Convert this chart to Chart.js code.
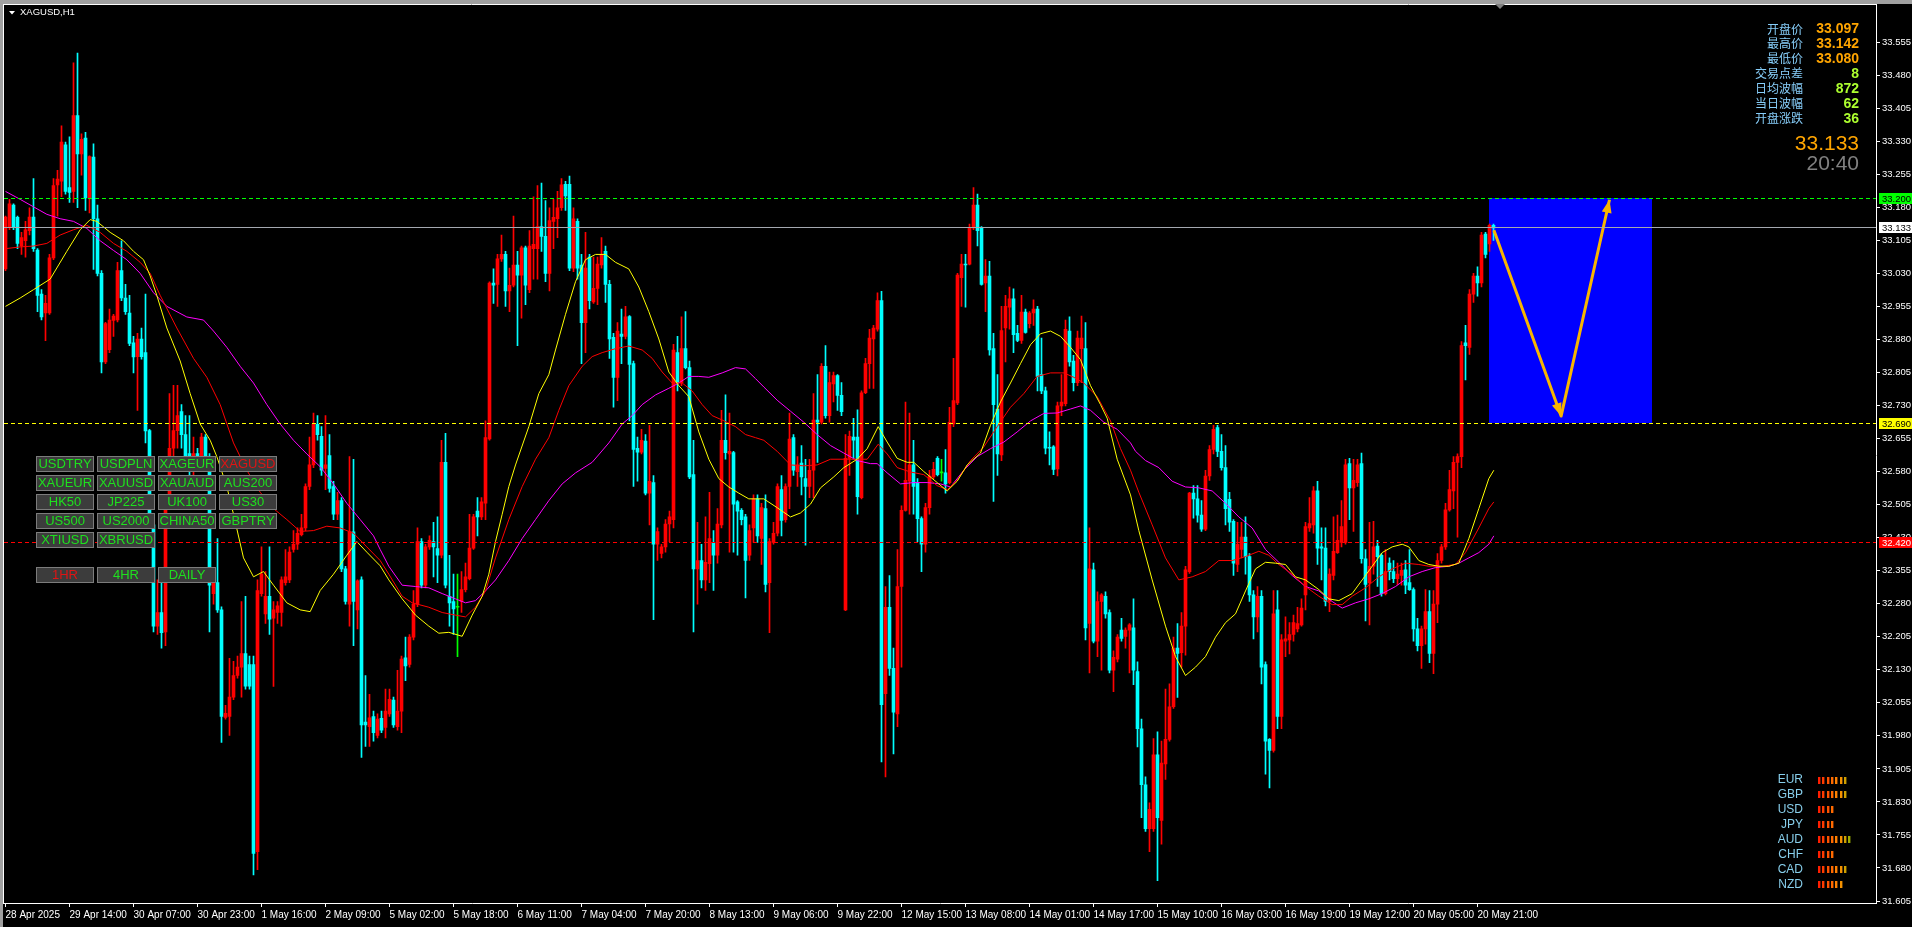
<!DOCTYPE html>
<html lang="zh">
<head>
<meta charset="utf-8">
<title>XAGUSD,H1</title>
<script src="https://cdn.jsdelivr.net/npm/chart.js@4.4.1/dist/chart.umd.min.js"></script>
<style>
html,body{margin:0;padding:0;background:#000;overflow:hidden;}
canvas{display:block;}
</style>
</head>
<body>
<canvas id="chart" width="1912" height="927"></canvas>
<script>
// ---- XAGUSD hourly bars (index 0 = 28 Apr 2025) ----
const opens = [
33.040,33.136,33.185,33.157,33.092,33.104,33.127,33.158,33.083,32.983,
32.940,32.940,33.065,33.231,33.239,33.322,33.225,33.216,33.388,33.301,
33.337,33.201,33.294,33.154,33.030,32.829,32.857,32.923,32.924,33.036,
32.974,32.940,32.872,32.841,32.881,32.850,32.673,32.459,32.229,32.260,
32.216,32.509,32.633,32.673,32.716,32.664,32.621,32.583,32.621,32.595,
32.658,32.614,32.303,32.328,32.266,32.022,32.024,32.068,32.117,32.136,
32.167,32.142,32.142,31.717,32.303,32.257,32.297,32.247,32.260,32.260,
32.328,32.334,32.403,32.415,32.437,32.452,32.546,32.595,32.687,32.660,
32.587,32.616,32.546,32.483,32.514,32.359,32.279,32.443,32.266,32.334,
32.011,32.001,32.024,31.981,32.020,31.999,32.030,32.061,32.001,32.036,
32.157,32.142,32.204,32.279,32.421,32.322,32.409,32.421,32.405,32.390,
32.601,32.297,32.285,32.272,32.285,32.312,32.337,32.406,32.490,32.477,
32.508,32.654,33.008,33.005,33.063,33.073,32.990,33.003,33.049,33.026,
33.088,32.993,33.086,33.086,33.136,33.114,33.030,33.148,33.154,33.179,
33.232,33.232,33.042,33.148,33.049,32.918,33.067,32.965,32.996,33.049,
33.080,33.005,32.885,32.794,32.892,32.887,32.932,32.825,32.633,32.624,
32.649,32.531,32.555,32.415,32.394,32.409,32.461,32.471,32.850,32.782,
32.859,32.816,32.573,32.359,32.378,32.334,32.371,32.419,32.390,32.459,
32.651,32.620,32.623,32.511,32.492,32.477,32.390,32.452,32.518,32.428,
32.496,32.328,32.419,32.440,32.539,32.471,32.546,32.657,32.580,32.599,
32.564,32.546,32.583,32.697,32.692,32.819,32.707,32.779,32.798,32.753,
32.266,32.610,32.658,32.658,32.521,32.759,32.825,32.881,32.903,32.968,
32.076,32.272,32.133,32.030,32.319,32.492,32.558,32.595,32.555,32.473,
32.415,32.498,32.568,32.610,32.577,32.577,32.555,32.688,32.736,33.020,
33.051,33.051,33.133,33.185,33.132,33.008,33.024,32.859,32.722,32.618,
32.906,32.953,32.972,32.894,32.878,32.942,32.916,32.940,32.949,32.800,
32.763,32.635,32.636,32.586,32.729,32.734,32.899,32.831,32.782,32.859,
32.859,32.235,32.357,32.195,32.285,32.297,32.260,32.129,32.154,32.220,
32.206,32.220,32.225,32.126,31.996,31.869,31.769,31.769,31.937,31.788,
31.916,31.972,32.046,32.179,32.169,32.229,32.353,32.531,32.518,32.481,
32.449,32.570,32.630,32.680,32.626,32.589,32.517,32.467,32.369,32.403,
32.431,32.387,32.300,32.250,32.297,32.142,31.972,31.947,32.266,32.024,
32.195,32.198,32.210,32.223,32.232,32.300,32.452,32.459,32.536,32.409,
32.406,32.285,32.344,32.396,32.419,32.419,32.598,32.543,32.555,32.598,
32.382,32.328,32.365,32.411,32.390,32.303,32.372,32.353,32.337,32.344,
32.357,32.328,32.312,32.223,32.185,32.223,32.262,32.167,32.279,32.378,
32.409,32.493,32.536,32.601,32.614,32.872,32.862,32.983,33.024,33.008,
33.119,33.097,33.139
];
const highs = [
33.160,33.198,33.188,33.160,33.123,33.148,33.179,33.245,33.086,32.993,
32.980,33.073,33.245,33.264,33.365,33.328,33.340,33.508,33.530,33.347,
33.350,33.297,33.324,33.185,33.036,32.919,32.949,32.937,33.055,33.104,
33.005,32.980,32.887,32.894,32.906,32.983,32.676,32.471,32.334,32.334,
32.521,32.757,32.776,32.776,32.732,32.707,32.707,32.658,32.633,32.667,
32.664,32.621,32.347,32.428,32.273,32.049,32.156,32.149,32.161,32.285,
32.297,32.161,32.161,32.334,32.409,32.353,32.409,32.285,32.285,32.341,
32.403,32.409,32.446,32.452,32.483,32.552,32.658,32.713,32.707,32.682,
32.707,32.664,32.558,32.533,32.521,32.365,32.614,32.608,32.334,32.341,
32.117,32.074,32.036,32.030,32.036,32.086,32.086,32.068,32.129,32.161,
32.204,32.210,32.310,32.452,32.428,32.415,32.434,32.465,32.477,32.651,
32.667,32.390,32.347,32.347,32.353,32.372,32.483,32.483,32.521,32.521,
32.695,33.011,33.040,33.073,33.117,33.080,33.042,33.160,33.080,33.092,
33.092,33.127,33.204,33.229,33.235,33.195,33.179,33.198,33.216,33.245,
33.239,33.251,33.179,33.154,33.073,33.123,33.073,33.067,33.067,33.111,
33.092,33.014,32.894,32.918,32.949,32.955,32.934,32.831,32.658,32.676,
32.664,32.685,32.571,32.452,32.415,32.471,32.490,32.869,32.887,32.931,
32.943,32.831,32.651,32.465,32.415,32.477,32.533,32.446,32.496,32.719,
32.754,32.713,32.626,32.514,32.496,32.483,32.459,32.527,32.527,32.508,
32.527,32.428,32.465,32.552,32.571,32.552,32.713,32.664,32.614,32.639,
32.608,32.608,32.757,32.800,32.825,32.866,32.806,32.806,32.800,32.782,
32.664,32.672,32.701,32.720,32.763,32.837,32.903,32.912,32.986,32.989,
32.319,32.344,32.179,32.403,32.502,32.738,32.713,32.651,32.564,32.477,
32.508,32.583,32.601,32.614,32.608,32.630,32.726,32.837,33.030,33.073,
33.073,33.142,33.225,33.210,33.136,33.061,33.057,32.894,32.800,32.955,
32.980,32.999,32.995,32.912,32.980,32.949,32.943,32.970,32.955,32.883,
32.772,32.670,32.639,32.738,32.800,32.924,32.931,32.844,32.899,32.933,
32.918,32.452,32.372,32.307,32.303,32.307,32.266,32.173,32.210,32.247,
32.225,32.235,32.291,32.148,32.018,31.887,31.828,31.974,31.989,31.968,
32.086,32.098,32.204,32.235,32.260,32.365,32.533,32.548,32.548,32.514,
32.583,32.639,32.685,32.685,32.664,32.639,32.533,32.471,32.465,32.465,
32.477,32.394,32.310,32.319,32.310,32.148,31.974,32.310,32.310,32.210,
32.250,32.237,32.254,32.272,32.291,32.465,32.521,32.546,32.558,32.452,
32.452,32.359,32.477,32.481,32.514,32.608,32.610,32.608,32.608,32.622,
32.403,32.465,32.467,32.424,32.394,32.403,32.384,32.378,32.372,32.372,
32.378,32.403,32.316,32.247,32.229,32.312,32.310,32.310,32.394,32.415,
32.508,32.583,32.614,32.620,32.875,32.912,32.993,33.030,33.045,33.123,
33.123,33.142,33.142
];
const lows = [
33.036,33.129,33.129,33.086,33.073,33.067,33.117,33.080,32.943,32.924,
32.877,32.937,33.061,33.160,33.204,33.210,33.191,33.191,33.179,33.253,
33.173,33.167,33.039,33.024,32.804,32.825,32.850,32.887,32.920,32.968,
32.937,32.866,32.804,32.719,32.835,32.645,32.452,32.216,32.210,32.179,
32.185,32.496,32.583,32.633,32.633,32.595,32.558,32.571,32.583,32.583,
32.608,32.216,32.279,32.260,31.965,32.018,31.981,32.062,32.111,32.068,
32.086,32.086,31.664,31.676,32.297,32.235,32.210,32.092,32.235,32.229,
32.322,32.328,32.397,32.403,32.434,32.446,32.539,32.589,32.651,32.571,
32.539,32.533,32.471,32.471,32.353,32.279,32.229,32.185,32.223,31.931,
31.956,31.956,31.968,31.975,31.987,31.975,32.024,31.999,31.993,31.987,
32.105,32.136,32.198,32.273,32.316,32.316,32.403,32.341,32.328,32.384,
32.316,32.229,32.210,32.160,32.260,32.307,32.334,32.403,32.434,32.471,
32.471,32.651,32.962,32.955,33.057,32.955,32.943,32.999,32.866,32.928,
32.959,32.986,33.017,33.017,33.080,33.011,32.990,33.086,33.111,33.173,
33.173,33.036,33.034,33.017,32.825,32.850,32.949,32.962,32.959,33.042,
32.964,32.837,32.726,32.741,32.825,32.881,32.695,32.546,32.558,32.620,
32.527,32.459,32.244,32.378,32.384,32.397,32.421,32.452,32.763,32.775,
32.813,32.564,32.216,32.279,32.316,32.310,32.328,32.310,32.372,32.452,
32.608,32.397,32.397,32.390,32.459,32.293,32.378,32.419,32.419,32.369,
32.307,32.214,32.415,32.434,32.434,32.465,32.496,32.571,32.546,32.527,
32.413,32.521,32.521,32.601,32.688,32.701,32.692,32.738,32.719,32.707,
32.264,32.571,32.608,32.483,32.518,32.757,32.769,32.769,32.899,31.921,
31.887,32.117,31.939,32.001,32.136,32.490,32.483,32.483,32.421,32.353,
32.397,32.483,32.564,32.570,32.558,32.531,32.552,32.682,32.732,32.955,
32.953,33.049,33.129,33.092,33.003,32.943,32.844,32.512,32.571,32.605,
32.829,32.903,32.850,32.875,32.871,32.894,32.906,32.912,32.763,32.757,
32.620,32.595,32.573,32.570,32.707,32.729,32.819,32.763,32.775,32.782,
32.198,32.123,32.191,32.160,32.129,32.247,32.123,32.080,32.148,32.195,
32.179,32.123,32.096,31.955,31.794,31.763,31.717,31.763,31.651,31.734,
31.881,31.968,32.042,32.067,32.136,32.163,32.349,32.474,32.465,32.444,
32.446,32.560,32.620,32.614,32.583,32.459,32.444,32.344,32.353,32.384,
32.347,32.285,32.200,32.216,32.098,31.893,31.862,31.943,31.996,31.996,
32.160,32.166,32.195,32.216,32.229,32.266,32.444,32.440,32.369,32.334,
32.275,32.262,32.334,32.394,32.409,32.415,32.471,32.444,32.546,32.372,
32.241,32.232,32.347,32.319,32.297,32.300,32.334,32.328,32.324,32.322,
32.303,32.310,32.195,32.173,32.133,32.188,32.146,32.121,32.237,32.372,
32.403,32.490,32.496,32.431,32.589,32.788,32.846,32.964,32.978,32.999,
33.065,33.080,33.105
];
const closes = [
33.158,33.188,33.136,33.098,33.111,33.129,33.158,33.086,32.980,32.931,
32.962,33.065,33.229,33.244,33.328,33.216,33.214,33.388,33.301,33.334,
33.201,33.295,33.154,33.030,32.829,32.916,32.924,32.933,33.036,32.974,
32.943,32.871,32.840,32.881,32.841,32.672,32.459,32.229,32.260,32.214,
32.509,32.633,32.673,32.707,32.664,32.614,32.583,32.621,32.595,32.658,
32.614,32.322,32.328,32.266,32.024,32.031,32.068,32.117,32.136,32.167,
32.093,32.093,31.713,32.310,32.347,32.297,32.245,32.266,32.275,32.334,
32.341,32.397,32.415,32.440,32.452,32.546,32.595,32.687,32.664,32.583,
32.595,32.542,32.483,32.514,32.359,32.285,32.444,32.285,32.332,32.005,
32.005,32.021,31.987,32.018,31.993,32.036,32.063,32.005,32.036,32.154,
32.139,32.204,32.279,32.421,32.322,32.409,32.424,32.409,32.390,32.601,
32.322,32.282,32.268,32.272,32.312,32.341,32.406,32.477,32.477,32.511,
32.657,33.008,33.003,33.063,33.073,32.990,33.003,33.049,33.026,33.088,
33.003,33.092,33.096,33.136,33.114,33.030,33.150,33.157,33.179,33.231,
33.206,33.042,33.154,33.042,32.918,33.042,32.968,32.996,33.051,33.073,
33.005,32.881,32.794,32.899,32.887,32.931,32.823,32.630,32.624,32.651,
32.531,32.558,32.415,32.444,32.409,32.461,32.477,32.856,32.782,32.859,
32.816,32.568,32.359,32.378,32.334,32.374,32.428,32.390,32.461,32.651,
32.623,32.626,32.506,32.490,32.471,32.378,32.446,32.518,32.434,32.498,
32.324,32.421,32.440,32.546,32.469,32.546,32.654,32.583,32.595,32.568,
32.546,32.583,32.697,32.692,32.819,32.707,32.782,32.798,32.753,32.716,
32.610,32.660,32.651,32.523,32.759,32.825,32.883,32.906,32.968,32.051,
32.272,32.133,32.034,32.319,32.492,32.560,32.595,32.546,32.473,32.415,
32.498,32.570,32.585,32.573,32.577,32.552,32.692,32.741,33.026,33.051,
33.049,33.133,33.185,33.127,33.005,33.024,32.856,32.732,32.620,32.900,
32.955,32.972,32.891,32.878,32.942,32.896,32.940,32.949,32.796,32.763,
32.633,32.633,32.585,32.729,32.738,32.903,32.829,32.782,32.883,32.883,
32.225,32.359,32.195,32.285,32.300,32.257,32.129,32.158,32.204,32.201,
32.220,32.232,32.129,31.996,31.869,31.769,31.813,31.937,31.794,31.918,
31.972,32.046,32.179,32.167,32.229,32.357,32.531,32.518,32.481,32.449,
32.570,32.630,32.676,32.626,32.589,32.496,32.465,32.372,32.415,32.431,
32.387,32.300,32.250,32.297,32.136,31.968,31.947,32.257,32.024,32.198,
32.200,32.210,32.237,32.235,32.270,32.455,32.462,32.536,32.406,32.406,
32.285,32.347,32.399,32.424,32.455,32.595,32.543,32.560,32.595,32.382,
32.324,32.365,32.409,32.387,32.303,32.353,32.353,32.337,32.347,32.356,
32.322,32.312,32.223,32.185,32.223,32.262,32.167,32.279,32.378,32.409,
32.493,32.539,32.601,32.614,32.866,32.866,32.983,33.024,33.008,33.117,
33.073,33.139,33.133
];

// Moving averages: [bar position, price]
const maFast = [
[0,32.955],[3.67,32.974],[7,32.993],[11.17,33.017],[15.33,33.080],[18.67,33.129],[21.17,33.152],[22.83,33.148],[26.17,33.123],[29.5,33.104],
[32,33.080],[34.5,33.061],[36.17,33.024],[37.83,32.980],[40.33,32.906],[43.67,32.831],[46.17,32.757],[48.67,32.688],[51.17,32.651],[52.83,32.614],
[55.33,32.546],[57,32.483],[59.5,32.384],[62,32.341],[64.5,32.353],[67,32.322],[70.33,32.282],[73.67,32.266],[76.17,32.262],[78.67,32.310],
[82,32.347],[85.33,32.390],[87.83,32.421],[90.33,32.397],[93.67,32.366],[95.83,32.334],[99.17,32.291],[102.5,32.254],[105.83,32.229],[108.33,32.213],
[110.83,32.215],[114.17,32.206],[116.67,32.254],[119.17,32.297],[120.83,32.347],[122.5,32.421],[124.17,32.483],[125.83,32.546],[127.5,32.595],[130.83,32.682],
[133.33,32.757],[135.83,32.800],[137.5,32.856],[140,32.937],[142.5,33.011],[145,33.061],[147.5,33.073],[150,33.073],[152.5,33.055],[155.83,33.040],
[158.33,32.999],[160.83,32.943],[163.33,32.881],[165.83,32.806],[168.33,32.775],[170.83,32.750],[173.33,32.670],[175.83,32.608],[178.33,32.564],[180.83,32.545],
[183.33,32.531],[185.83,32.518],[189.58,32.518],[192.92,32.498],[196.25,32.477],[198.75,32.486],[201.25,32.506],[203.75,32.543],[207.08,32.568],[209.58,32.589],
[212.92,32.608],[215.42,32.632],[218.17,32.682],[220.42,32.647],[222.92,32.610],[225.42,32.601],[227.08,32.601],[229.58,32.580],[232.92,32.555],[235.42,32.536],
[237.92,32.558],[240.42,32.595],[243.75,32.622],[246.25,32.685],[248.75,32.738],[251.25,32.781],[253.75,32.825],[256.25,32.868],[258.75,32.893],[261.25,32.899],
[263.75,32.887],[266.25,32.862],[268.75,32.834],[271.25,32.775],[273.75,32.732],[275.42,32.701],[277.92,32.608],[281.25,32.527],[283.33,32.446],[286.67,32.334],
[290,32.229],[292.5,32.160],[295,32.117],[297.5,32.136],[300,32.160],[302.5,32.204],[305,32.237],[307.5,32.257],[310,32.309],[312.5,32.359],
[315,32.374],[317.5,32.372],[320,32.369],[322.5,32.341],[325,32.334],[328.33,32.312],[330.83,32.291],[333.33,32.287],[336.67,32.303],[339.17,32.334],
[341.67,32.365],[344.17,32.396],[346.67,32.409],[349.17,32.415],[350.83,32.409],[353.33,32.378],[355.83,32.369],[358.33,32.365],[360.83,32.365],[363.33,32.372],
[365.83,32.428],[368.33,32.496],[370.83,32.564],[372.08,32.583]
];
const maMid = [
[0,33.086],[3.67,33.090],[7,33.092],[10.33,33.098],[13.67,33.117],[17,33.129],[20.33,33.139],[23.67,33.123],[27,33.098],[30.33,33.080],
[33.67,33.055],[36.17,33.030],[38.67,32.980],[42.83,32.906],[47,32.837],[50.33,32.794],[53.67,32.732],[57,32.645],[60.33,32.583],[63.67,32.533],
[67,32.496],[70.33,32.471],[73.67,32.444],[77,32.446],[80.33,32.456],[83.67,32.452],[87,32.440],[90.33,32.409],[93.67,32.378],[95.83,32.347],
[99.17,32.297],[101.67,32.282],[105.83,32.272],[109.17,32.260],[112.5,32.254],[115,32.250],[117.5,32.272],[120,32.309],[122.5,32.384],[125.83,32.471],
[129.17,32.546],[132.5,32.608],[135.83,32.657],[138.33,32.719],[140.83,32.775],[144.17,32.819],[146.67,32.841],[149.17,32.850],[152.5,32.859],[155.83,32.865],
[159.17,32.856],[161.67,32.837],[164.17,32.806],[166.67,32.781],[169.17,32.781],[171.67,32.763],[174.17,32.732],[176.67,32.707],[179.17,32.697],[182.5,32.682],
[185,32.664],[187.5,32.657],[189.58,32.651],[192.92,32.626],[196.25,32.595],[199.58,32.593],[202.92,32.595],[206.25,32.608],[209.58,32.608],[212.92,32.608],
[215.42,32.608],[218.17,32.642],[220.42,32.620],[222.92,32.589],[226.25,32.579],[229.58,32.573],[232.92,32.548],[235.42,32.539],[237.92,32.560],[241.25,32.605],
[244.58,32.636],[247.92,32.682],[251.25,32.726],[254.58,32.757],[257.92,32.796],[261.25,32.804],[264.58,32.804],[267.08,32.794],[269.58,32.781],[272.92,32.750],
[276.25,32.695],[278.75,32.632],[281.25,32.583],[283.33,32.533],[286.67,32.459],[290,32.384],[293.33,32.334],[296.67,32.341],[300,32.353],[303.33,32.378],
[306.67,32.378],[310,32.387],[313.33,32.399],[315.83,32.390],[318.33,32.369],[321.67,32.347],[325,32.319],[328.33,32.297],[331.67,32.278],[334.17,32.278],
[336.67,32.297],[340,32.316],[343.33,32.341],[346.67,32.359],[350,32.372],[353.33,32.369],[355.83,32.365],[359.17,32.365],[362.5,32.369],[365,32.396],
[368.33,32.452],[370.83,32.496],[372.08,32.511]
];
const maSlow = [
[0,33.216],[3.67,33.198],[7,33.181],[10.33,33.164],[13.67,33.154],[17,33.148],[20.33,33.132],[23.67,33.104],[27,33.082],[30.33,33.061],
[33.67,33.030],[37,32.986],[40.33,32.955],[45.33,32.931],[49.5,32.924],[52,32.899],[55.33,32.862],[58.67,32.819],[62,32.781],[65.33,32.732],
[68.67,32.688],[72,32.651],[75.33,32.620],[78.67,32.591],[82,32.552],[85.33,32.508],[88.67,32.471],[92,32.434],[93.67,32.403],[95.83,32.365],
[99.17,32.322],[102.5,32.319],[105.83,32.316],[109.17,32.303],[112.5,32.291],[115,32.282],[117.5,32.287],[120,32.309],[122.5,32.334],[125.83,32.378],
[129.17,32.428],[132.5,32.471],[135.83,32.514],[139.17,32.552],[142.5,32.577],[146.67,32.601],[150.83,32.645],[154.17,32.688],[156.67,32.707],[159.17,32.732],
[162.5,32.754],[165.83,32.769],[168.33,32.781],[170.83,32.796],[173.33,32.796],[175.83,32.794],[179.17,32.804],[182.5,32.816],[185,32.813],[187.5,32.791],
[189.58,32.772],[192.92,32.742],[196.25,32.717],[199.58,32.692],[202.92,32.664],[206.25,32.639],[209.58,32.622],[212.92,32.605],[216.25,32.598],[217.92,32.598],
[220.42,32.577],[223.75,32.552],[227.08,32.555],[230.42,32.555],[233.75,32.552],[236.25,32.545],[239.58,32.583],[242.92,32.614],[246.25,32.632],[249.58,32.647],
[252.92,32.670],[256.25,32.695],[259.58,32.712],[262.92,32.713],[266.25,32.722],[268.75,32.729],[271.25,32.719],[274.58,32.692],[277.92,32.676],[281.25,32.645],
[282.5,32.626],[285,32.605],[288.33,32.589],[291.67,32.558],[295,32.545],[298.33,32.543],[301.67,32.536],[305,32.508],[308.33,32.477],[311.67,32.452],
[315,32.403],[318.33,32.374],[321.67,32.344],[325,32.319],[328.33,32.309],[331.67,32.285],[334.17,32.270],[337.5,32.282],[340.83,32.291],[344.17,32.303],
[347.5,32.319],[350.83,32.341],[354.17,32.353],[357.5,32.362],[360.83,32.365],[363.33,32.372],[365.83,32.384],[368.33,32.396],[370.83,32.415],[372.08,32.434]
];

// Axis labels
const timeLabels = ['28 Apr 2025','29 Apr 14:00','30 Apr 07:00','30 Apr 23:00','1 May 16:00','2 May 09:00','5 May 02:00','5 May 18:00',
  '6 May 11:00','7 May 04:00','7 May 20:00','8 May 13:00','9 May 06:00','9 May 22:00','12 May 15:00','13 May 08:00','14 May 01:00',
  '14 May 17:00','15 May 10:00','16 May 03:00','16 May 19:00','19 May 12:00','20 May 05:00','20 May 21:00'];
const BARS_PER_LABEL = 16;
const priceTicks = [31.605,31.680,31.755,31.830,31.905,31.980,32.055,32.130,32.205,32.280,32.355,32.430,32.505,32.580,
  32.655,32.730,32.805,32.880,32.955,33.030,33.105,33.180,33.255,33.330,33.405,33.480,33.555];

// Horizontal levels and the projected path
const levelPrices = [33.200, 32.690, 32.420];
const levelColors = ['#00FF00', '#FFFF00', '#FF0000'];
const levelTextColors = ['#000000', '#000000', '#FFFFFF'];
const bidPrice = 33.133;
const zoneFrom = 370.9, zoneTo = 411.6, zoneLow = 32.690, zoneHigh = 33.200;
const arrowPath = [[372.1, 33.128], [388.9, 32.706], [401.0, 33.197]];

// Info panel
const infoLabels = ['开盘价', '最高价', '最低价', '交易点差', '日均波幅', '当日波幅', '开盘涨跌'];
const infoValues = ['33.097', '33.142', '33.080', '8', '872', '62', '36'];
const lastPrice = '33.133';
const barTimer = '20:40';

// Symbol buttons
const symbolRows = [['USDTRY','USDPLN','XAGEUR','XAGUSD'],['XAUEUR','XAUUSD','XAUAUD','AUS200'],
  ['HK50','JP225','UK100','US30'],['US500','US2000','CHINA50','GBPTRY'],['XTIUSD','XBRUSD']];
const periodButtons = ['1HR', '4HR', 'DAILY'];
const activeSymbol = 'XAGUSD', activePeriod = '1HR';

// Currency strength meter
const currencies = ['EUR','GBP','USD','JPY','AUD','CHF','CAD','NZD'];
const strength = [7, 7, 4, 4, 8, 4, 7, 6];
const strengthColors = ['#FF1E00','#FF3A00','#FF5200','#FF6A00','#FF8000','#F59200','#CFA000','#9CAC00'];

const X_MIN = -0.375, X_MAX = 467.625;
const PRICE_MIN = 31.6005, PRICE_MAX = 33.6331;

const AXIS_FONT = "'Liberation Sans',Arial,sans-serif";
const SANS = "'Liberation Sans',Arial,sans-serif";
const CJK = "'Noto Sans CJK SC','Noto Sans',sans-serif";
const UP = '#FF0000', DOWN = '#00FFFF', FLAT = '#00FF00';
const ARROW = '#F7B500';

const colorOf = i => closes[i] > opens[i] ? UP : (closes[i] < opens[i] ? DOWN : FLAT);
const wickData = opens.map((_, i) => ({ x: i, y: [lows[i], highs[i]] }));
const bodyData = opens.map((_, i) => ({ x: i, y: [Math.min(opens[i], closes[i]), Math.max(opens[i], closes[i])] }));
const toPoints = arr => arr.map(([x, y]) => ({ x, y }));
const half = v => Math.floor(v) + 0.5;

function arrowHead(c, sx, sy, ex, ey, len, w) {
  const a = Math.atan2(ey - sy, ex - sx);
  const bx = ex - len * Math.cos(a), by = ey - len * Math.sin(a);
  c.beginPath();
  c.moveTo(ex, ey);
  c.lineTo(bx + w * Math.sin(a), by - w * Math.cos(a));
  c.lineTo(bx - w * Math.sin(a), by + w * Math.cos(a));
  c.closePath();
  c.fill();
}

const terminal = {
  id: 'terminal',
  beforeDraw(chart) {
    const c = chart.ctx;
    c.save();
    c.fillStyle = '#000000';
    c.fillRect(0, 0, chart.width, chart.height);
    c.fillStyle = '#A0A0A0';
    c.fillRect(0, 0, chart.width, 4);
    c.fillRect(0, 0, 3, chart.height);
    c.restore();
  },
  beforeDatasetsDraw(chart) {
    const { ctx: c, scales: { x, y }, chartArea: a } = chart;
    c.save();
    c.beginPath(); c.rect(a.left, a.top, a.right - a.left, a.bottom - a.top); c.clip();
    const x0 = Math.round(x.getPixelForValue(zoneFrom)), x1 = Math.round(x.getPixelForValue(zoneTo));
    const y0 = Math.round(y.getPixelForValue(zoneHigh)), y1 = Math.round(y.getPixelForValue(zoneLow));
    c.fillStyle = '#0000FF';
    c.fillRect(x0, y0, x1 - x0, y1 - y0);
    c.restore();
  },
  afterDatasetsDraw(chart) {
    const { ctx: c, scales: { x, y }, chartArea: a } = chart;
    c.save();
    c.beginPath(); c.rect(a.left, a.top, a.right - a.left, a.bottom - a.top); c.clip();
    // arrow heads at the end of each leg
    c.fillStyle = ARROW;
    for (let i = 1; i < arrowPath.length; i++) {
      const s = arrowPath[i - 1], e = arrowPath[i];
      arrowHead(c, x.getPixelForValue(s[0]), y.getPixelForValue(s[1]),
        x.getPixelForValue(e[0]), y.getPixelForValue(e[1]), 13, 5);
    }
    // bid line
    c.lineWidth = 1;
    c.strokeStyle = '#A4A8B0';
    c.setLineDash([]);
    const py = half(y.getPixelForValue(bidPrice));
    c.beginPath(); c.moveTo(a.left, py); c.lineTo(a.right, py); c.stroke();
    // dashed price levels
    c.setLineDash([4, 3]);
    levelPrices.forEach((p, i) => {
      const ly = half(y.getPixelForValue(p));
      c.strokeStyle = levelColors[i];
      c.beginPath(); c.moveTo(a.left, ly); c.lineTo(a.right, ly); c.stroke();
    });
    c.restore();
  },
  afterDraw(chart) {
    const { ctx: c, scales: { y }, chartArea: a } = chart;
    c.save();
    // window frame
    c.strokeStyle = '#FFFFFF';
    c.lineWidth = 1;
    c.beginPath();
    c.moveTo(3, 4.5); c.lineTo(a.right + 1, 4.5);
    c.moveTo(3.5, 4); c.lineTo(3.5, a.bottom + 1);
    c.moveTo(a.right + 0.5, 4); c.lineTo(a.right + 0.5, a.top);
    c.stroke();
    // shift marker
    c.fillStyle = '#808080';
    c.beginPath(); c.moveTo(1495, 4); c.lineTo(1505, 4); c.lineTo(1500, 9); c.closePath(); c.fill();

    // price tags on the axis
    const tag = (p, bg, fg) => {
      const ty = half(y.getPixelForValue(p));
      c.fillStyle = bg;
      c.fillRect(a.right + 3, ty - 5.5, chart.width - a.right - 3, 11);
      c.fillStyle = fg;
      c.font = '9.5px ' + AXIS_FONT;
      c.textAlign = 'left'; c.textBaseline = 'middle';
      c.fillText(p.toFixed(3), a.right + 6, ty + 0.5);
    };
    levelPrices.forEach((p, i) => tag(p, levelColors[i], levelTextColors[i]));
    tag(bidPrice, '#FFFFFF', '#000000');

    // title
    c.fillStyle = '#FFFFFF';
    c.beginPath(); c.moveTo(9, 11); c.lineTo(15, 11); c.lineTo(12, 14.5); c.closePath(); c.fill();
    c.font = '9.5px ' + AXIS_FONT;
    c.textAlign = 'left'; c.textBaseline = 'middle';
    c.fillText('XAGUSD,H1', 20, 12.5);

    // info panel
    infoLabels.forEach((t, i) => {
      const ry = 29 + i * 14.9;
      c.font = '12px ' + CJK;
      c.fillStyle = '#87CEFA';
      c.textAlign = 'right'; c.textBaseline = 'middle';
      c.fillText(t, 1803, ry);
      c.font = 'bold 14px ' + SANS;
      c.fillStyle = i < 3 ? '#FFA500' : '#ADFF2F';
      c.fillText(infoValues[i], 1859, ry + 0.5);
    });
    c.font = '21px ' + SANS;
    c.fillStyle = '#FFA500';
    c.fillText(lastPrice, 1859, 144);
    c.fillStyle = '#808080';
    c.fillText(barTimer, 1859, 164);

    // symbol / period buttons
    const button = (label, bx, by, active) => {
      c.fillStyle = '#3C3C3C';
      c.fillRect(bx, by, 58, 16);
      c.strokeStyle = '#7C7C7C';
      c.setLineDash([]);
      c.strokeRect(bx + 0.5, by + 0.5, 57, 15);
      c.font = '13px ' + SANS;
      c.fillStyle = active ? '#E01414' : '#1EE01E';
      c.textAlign = 'center'; c.textBaseline = 'middle';
      c.fillText(label, bx + 29, by + 8.5);
    };
    symbolRows.forEach((row, r) => row.forEach((s, k) => button(s, 36 + k * 61, 456 + r * 19, s === activeSymbol)));
    periodButtons.forEach((s, k) => button(s, 36 + k * 61, 567, s === activePeriod));

    // currency strength meter
    currencies.forEach((cur, i) => {
      const ry = 780 + i * 14.9;
      c.font = '12px ' + SANS;
      c.fillStyle = '#87CEEB';
      c.textAlign = 'right'; c.textBaseline = 'middle';
      c.fillText(cur, 1803, ry);
      for (let j = 0; j < strength[i]; j++) {
        c.fillStyle = strengthColors[j];
        c.fillRect(Math.round(1818 + j * 4.33), Math.round(ry - 3.5), 2.4, 7);
      }
    });
    c.restore();
  }
};

const lineStyle = (color, width) => ({
  type: 'line', borderColor: color, borderWidth: width, pointRadius: 0, pointHoverRadius: 0,
  tension: 0, fill: false, borderJoinStyle: 'round'
});

new Chart(document.getElementById('chart'), {
  type: 'bar',
  data: {
    datasets: [
      Object.assign(lineStyle(ARROW, 3), { label: 'projection', data: toPoints(arrowPath) }),
      Object.assign(lineStyle('#FFFF00', 1), { label: 'MA fast', data: toPoints(maFast) }),
      Object.assign(lineStyle('#FF0000', 1), { label: 'MA mid', data: toPoints(maMid) }),
      Object.assign(lineStyle('#FF00FF', 1), { label: 'MA slow', data: toPoints(maSlow) }),
      { label: 'body', data: bodyData, barThickness: 3, grouped: false, minBarLength: 1, borderWidth: 0,
        backgroundColor: ctx => colorOf(ctx.dataIndex) },
      { label: 'wick', data: wickData, barThickness: 1, grouped: false, minBarLength: 1, borderWidth: 0,
        backgroundColor: ctx => colorOf(ctx.dataIndex) }
    ]
  },
  options: {
    responsive: false,
    animation: false,
    devicePixelRatio: 1,
    events: [],
    layout: { padding: { left: 4, top: 5, right: 0, bottom: 0 } },
    plugins: { legend: { display: false }, tooltip: { enabled: false } },
    scales: {
      x: {
        type: 'linear', position: 'bottom', min: X_MIN, max: X_MAX, offset: false,
        afterFit: s => { s.height = 24; },
        afterBuildTicks: s => { s.ticks = timeLabels.map((_, i) => ({ value: i * BARS_PER_LABEL })); },
        ticks: { autoSkip: false, maxRotation: 0, minRotation: 0, align: 'start', padding: 2,
          color: '#FFFFFF', font: { family: AXIS_FONT, size: 10 }, callback: (v, i) => timeLabels[i] },
        grid: { display: true, drawOnChartArea: false, drawTicks: true, tickLength: 4, color: '#FFFFFF', offset: false },
        border: { display: true, color: '#FFFFFF', width: 1 }
      },
      y: {
        type: 'linear', position: 'right', min: PRICE_MIN, max: PRICE_MAX, beginAtZero: false,
        afterFit: s => { s.width = 36; },
        afterBuildTicks: s => { s.ticks = priceTicks.map(v => ({ value: v })); },
        ticks: { autoSkip: false, padding: 2, color: '#FFFFFF', font: { family: AXIS_FONT, size: 9.5 },
          callback: v => Number(v).toFixed(3) },
        grid: { display: true, drawOnChartArea: false, drawTicks: true, tickLength: 4, color: '#FFFFFF' },
        border: { display: true, color: '#FFFFFF', width: 1 }
      }
    }
  },
  plugins: [terminal]
});
</script>
</body>
</html>
